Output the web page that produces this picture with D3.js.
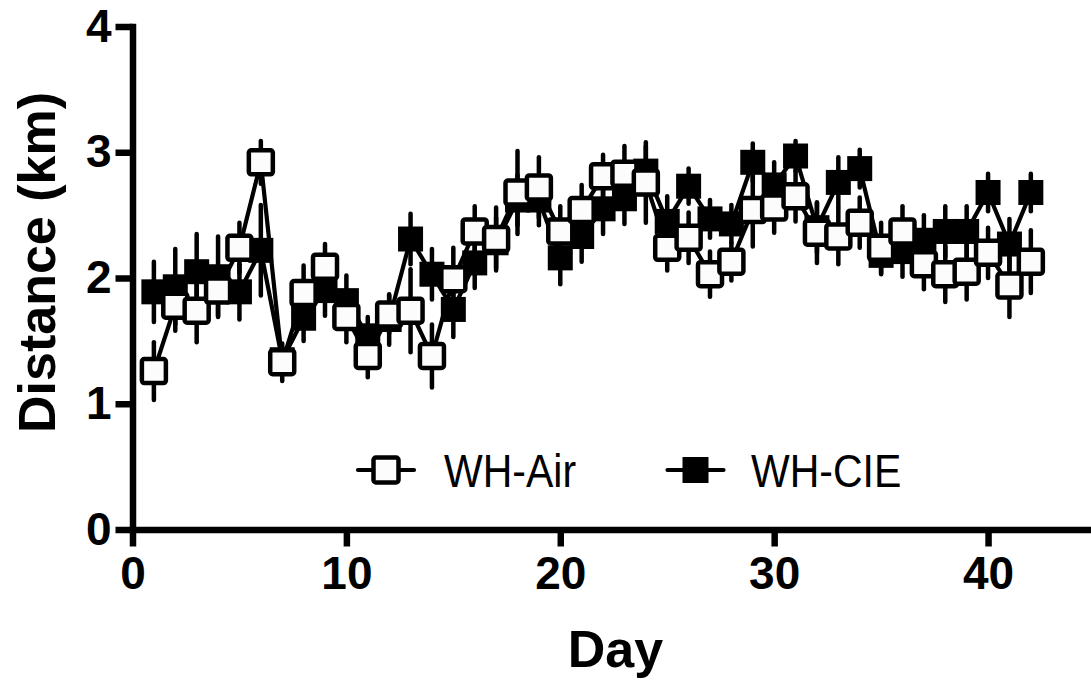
<!DOCTYPE html>
<html>
<head>
<meta charset="utf-8">
<script src="https://cdn.jsdelivr.net/npm/d3@7"></script>
<style>
  html, body { margin: 0; padding: 0; background: #fff; }
  svg { display: block; }
</style>
</head>
<body>
<svg id="chart" width="1091" height="684"></svg>
<script>
// Daily distance, mean ± SEM, per group
const days = d3.range(1, 43);

const airMean = [1.26, 1.78, 1.74, 1.90, 2.24, 2.92, 1.33, 1.88, 2.09, 1.69,
                 1.38, 1.71, 1.74, 1.38, 1.99, 2.37, 2.31, 2.68, 2.72, 2.37,
                 2.54, 2.81, 2.83, 2.76, 2.24, 2.32, 2.03, 2.13, 2.54, 2.56,
                 2.65, 2.36, 2.33, 2.44, 2.24, 2.37, 2.11, 2.03, 2.05, 2.20,
                 1.94, 2.13];
const airSem  = [0.23, 0.20, 0.25, 0.20, 0.20, 0.17, 0.15, 0.22, 0.18, 0.20,
                 0.17, 0.15, 0.33, 0.25, 0.25, 0.20, 0.25, 0.33, 0.24, 0.20,
                 0.20, 0.17, 0.22, 0.32, 0.18, 0.20, 0.18, 0.15, 0.29, 0.20,
                 0.20, 0.24, 0.22, 0.20, 0.20, 0.20, 0.20, 0.22, 0.22, 0.20,
                 0.25, 0.25];

const cieMean = [1.89, 1.93, 2.05, 2.01, 1.89, 2.22, 1.35, 1.68, 1.90, 1.82,
                 1.54, 1.67, 2.31, 2.03, 1.75, 2.12, 2.28, 2.62, 2.62, 2.16,
                 2.33, 2.55, 2.63, 2.85, 2.45, 2.73, 2.47, 2.43, 2.92, 2.74,
                 2.97, 2.40, 2.76, 2.87, 2.18, 2.21, 2.30, 2.37, 2.37, 2.68,
                 2.27, 2.68];
const cieSem  = [0.24, 0.30, 0.30, 0.32, 0.22, 0.36, 0.10, 0.18, 0.20, 0.20,
                 0.15, 0.20, 0.20, 0.20, 0.22, 0.20, 0.20, 0.20, 0.20, 0.21,
                 0.20, 0.20, 0.20, 0.20, 0.20, 0.14, 0.15, 0.15, 0.15, 0.18,
                 0.12, 0.20, 0.20, 0.15, 0.15, 0.20, 0.20, 0.20, 0.20, 0.15,
                 0.20, 0.15];

const seriesNames = ["WH-Air", "WH-CIE"];
const xTicks = [0, 10, 20, 30, 40];
const yTicks = [0, 1, 2, 3, 4];

const svg = d3.select("#chart");

const x = d3.scaleLinear().domain([0, 45]).range([132.5, 1095]);
const y = d3.scaleLinear().domain([0, 4]).range([529.5, 26.5]);

const AXIS_W = 6.5;
const FONT = "'Liberation Sans', Arial, Helvetica, sans-serif";

// Axes
const yAxis = d3.axisLeft(y).tickValues(yTicks).tickFormat(d3.format("d"))
  .tickSize(17).tickSizeOuter(0).tickPadding(4);
const xAxis = d3.axisBottom(x).tickValues(xTicks).tickFormat(d3.format("d"))
  .tickSize(17).tickSizeOuter(0).tickPadding(10);

function styleAxis(g) {
  g.select(".domain").attr("stroke", "#000").attr("stroke-width", AXIS_W)
    .attr("stroke-linecap", "square");
  g.selectAll(".tick line").attr("stroke", "#000").attr("stroke-width", AXIS_W);
  g.selectAll(".tick text").attr("fill", "#000")
    .style("font-family", FONT).style("font-weight", "bold").style("font-size", "46px");
}

const gx = svg.append("g").attr("transform", `translate(0,${y(0)})`).call(xAxis).call(styleAxis);
const gy = svg.append("g").attr("transform", `translate(${x(0)},0)`).call(yAxis).call(styleAxis);

// Axis titles
svg.append("text")
  .attr("x", 615.5).attr("y", 667)
  .attr("text-anchor", "middle")
  .style("font-family", FONT).style("font-weight", "bold").style("font-size", "52px")
  .text("Day");

svg.append("text")
  .attr("transform", "translate(55,262.5) rotate(-90)")
  .attr("text-anchor", "middle")
  .style("font-family", FONT).style("font-weight", "bold").style("font-size", "52px")
  .text("Distance (km)");

// Series
const LINE_W = 4.2;
const ERR_W = 4.5;
const OPEN_SIZE = 24, OPEN_STROKE = 4.5;
const FILLED_SIZE = 25;

function drawSeries(mean, sem, open) {
  const g = svg.append("g");
  const pts = days.map((d, i) => ({ d, m: mean[i], s: sem[i] }));

  g.append("path")
    .datum(pts)
    .attr("fill", "none")
    .attr("stroke", "#000")
    .attr("stroke-width", LINE_W)
    .attr("stroke-linejoin", "round")
    .attr("d", d3.line().x(p => x(p.d)).y(p => y(p.m)));

  g.selectAll("line.err")
    .data(pts)
    .join("line")
    .attr("class", "err")
    .attr("x1", p => x(p.d)).attr("x2", p => x(p.d))
    .attr("y1", p => y(p.m - p.s)).attr("y2", p => y(p.m + p.s))
    .attr("stroke", "#000")
    .attr("stroke-width", ERR_W)
    .attr("stroke-linecap", "round");

  if (open) {
    g.selectAll("rect.mk")
      .data(pts)
      .join("rect")
      .attr("class", "mk")
      .attr("x", p => x(p.d) - OPEN_SIZE / 2)
      .attr("y", p => y(p.m) - OPEN_SIZE / 2)
      .attr("width", OPEN_SIZE).attr("height", OPEN_SIZE)
      .attr("rx", 2.5)
      .attr("fill", "#fcfcfc")
      .attr("stroke", "#000")
      .attr("stroke-width", OPEN_STROKE);
  } else {
    g.selectAll("rect.mk")
      .data(pts)
      .join("rect")
      .attr("class", "mk")
      .attr("x", p => x(p.d) - FILLED_SIZE / 2)
      .attr("y", p => y(p.m) - FILLED_SIZE / 2)
      .attr("width", FILLED_SIZE).attr("height", FILLED_SIZE)
      .attr("fill", "#000");
  }
}

drawSeries(cieMean, cieSem, false);
drawSeries(airMean, airSem, true);

// Legend
const legend = svg.append("g");
const legendItems = [
  { name: seriesNames[0], open: true,  cx: 386,   tx: 444 },
  { name: seriesNames[1], open: false, cx: 695.5, tx: 751 }
];
const LEG_Y = 470;
legendItems.forEach(it => {
  legend.append("line")
    .attr("x1", it.cx - 28).attr("x2", it.cx + 28)
    .attr("y1", LEG_Y).attr("y2", LEG_Y)
    .attr("stroke", "#000").attr("stroke-width", LINE_W)
    .attr("stroke-linecap", "round");
  if (it.open) {
    legend.append("rect")
      .attr("x", it.cx - 12.5).attr("y", LEG_Y - 12.5)
      .attr("width", 25).attr("height", 25).attr("rx", 2.5)
      .attr("fill", "#fcfcfc").attr("stroke", "#000").attr("stroke-width", OPEN_STROKE);
  } else {
    legend.append("rect")
      .attr("x", it.cx - 13).attr("y", LEG_Y - 13)
      .attr("width", 26).attr("height", 26)
      .attr("fill", "#000");
  }
  legend.append("text")
    .attr("transform", `translate(${it.tx},${LEG_Y + 17}) scale(1,1.13)`)
    .style("font-family", FONT).style("font-size", "41px")
    .attr("fill", "#000")
    .text(it.name);
});
</script>
</body>
</html>
